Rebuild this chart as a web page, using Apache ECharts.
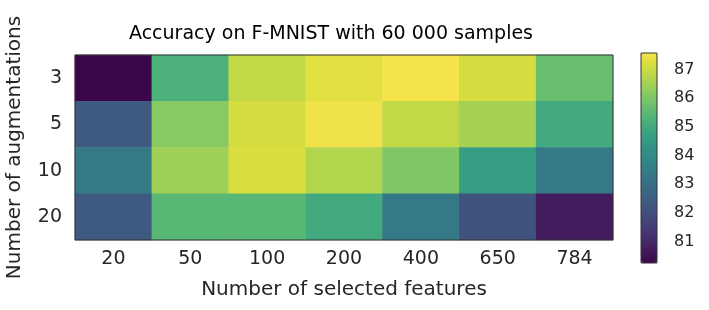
<!DOCTYPE html>
<html>
<head>
<meta charset="utf-8">
<script src="https://cdn.jsdelivr.net/npm/echarts@6/dist/echarts.min.js"></script>
<style>html,body{margin:0;padding:0;background:#fff;}#c{width:709px;height:310px;}</style>
</head>
<body>
<div id="c"></div>
<script>
const features = ['20', '50', '100', '200', '400', '650', '784'];
const augmentations = ['3', '5', '10', '20'];
const acc3  = [80.25, 85.2, 86.9, 87.3, 87.58, 87.15, 85.7];
const acc5  = [82.35, 86.15, 87.15, 87.48, 86.9, 86.55, 85.0];
const acc10 = [83.37, 86.45, 87.2, 86.7, 86.05, 84.65, 83.4];
const acc20 = [82.35, 85.45, 85.45, 85.0, 83.37, 82.12, 80.7];
const colorbarTicks = [81, 82, 83, 84, 85, 86, 87];
const vMin = 80.25, vMax = 87.58;

const rows = [acc3, acc5, acc10, acc20];
const data = [];
rows.forEach((r, yi) => r.forEach((v, xi) => data.push([xi, yi, v])));

// viridis, slightly desaturated to match the look of the reference picture
const viridisBase = ['#440154','#471365','#482475','#463480','#414487','#3b528b','#355f8d','#2f6c8e','#2a788e','#25848e','#21918c','#1e9c89','#22a884','#2fb47c','#44bf70','#5ec962','#7ad151','#9bd93c','#bddf26','#dfe318','#fde725'];
function desat(hex, k) {
  const r = parseInt(hex.slice(1, 3), 16), g = parseInt(hex.slice(3, 5), 16), b = parseInt(hex.slice(5, 7), 16);
  const y = 0.299 * r + 0.587 * g + 0.114 * b;
  const f = c => Math.round(c + (y - c) * k);
  return 'rgb(' + f(r) + ',' + f(g) + ',' + f(b) + ')';
}
const palette = viridisBase.map(h => desat(h, 0.22));

const font = 'DejaVu Sans';
const txt = '#262626';
const chart = echarts.init(document.getElementById('c'));
chart.setOption({
  animation: false,
  title: {
    text: 'Accuracy on F-MNIST with 60 000 samples',
    left: 326, top: 20, textAlign: 'center',
    textStyle: {fontFamily: font, fontSize: 19, fontWeight: 'normal', color: '#000'}
  },
  grid: [
    {left: 75, top: 55, width: 538, height: 185, show: true, borderColor: '#333', borderWidth: 1, z: 10, backgroundColor: 'transparent', outerBoundsMode: 'none', containLabel: false},
    {left: 641, top: 53, width: 16, height: 210, show: true, borderColor: '#333', borderWidth: 1, z: 10, backgroundColor: 'transparent', outerBoundsMode: 'none', containLabel: false}
  ],
  xAxis: [
    {type: 'category', gridIndex: 0, data: features,
     axisLine: {show: false}, axisTick: {alignWithLabel: true, length: 7, lineStyle: {color: '#333'}},
     axisLabel: {fontFamily: font, fontSize: 19, color: txt, margin: 10},
     name: 'Number of selected features', nameLocation: 'middle', nameGap: 40,
     nameTextStyle: {fontFamily: font, fontSize: 20, color: txt},
     splitArea: {show: false}, splitLine: {show: false}},
    {type: 'value', gridIndex: 1, show: false}
  ],
  yAxis: [
    {type: 'category', gridIndex: 0, data: augmentations, inverse: true,
     axisLine: {show: false}, axisTick: {alignWithLabel: true, length: 7, lineStyle: {color: '#333'}},
     axisLabel: {fontFamily: font, fontSize: 19, color: txt, margin: 13},
     name: 'Number of augmentations', nameLocation: 'middle', nameGap: 50, nameRotate: 90,
     nameTextStyle: {fontFamily: font, fontSize: 20, color: txt},
     splitArea: {show: false}, splitLine: {show: false}},
    {type: 'value', gridIndex: 1, position: 'right', min: vMin, max: vMax,
     axisLine: {show: false}, splitLine: {show: false},
     axisTick: {show: true, length: 7, customValues: colorbarTicks, lineStyle: {color: '#333'}},
     axisLabel: {show: true, customValues: colorbarTicks, fontFamily: font, fontSize: 16, color: txt, margin: 17}}
  ],
  visualMap: {
    type: 'continuous', min: vMin, max: vMax, calculable: false,
    left: 641, top: 53, itemWidth: 16, itemHeight: 210, padding: 0,
    inRange: {color: palette}, seriesIndex: 0, text: null, showLabel: false
  },
  series: [{
    type: 'heatmap', xAxisIndex: 0, yAxisIndex: 0, data: data,
    label: {show: false}, emphasis: {disabled: true}, itemStyle: {borderWidth: 0}
  }]
});
</script>
</body>
</html>
